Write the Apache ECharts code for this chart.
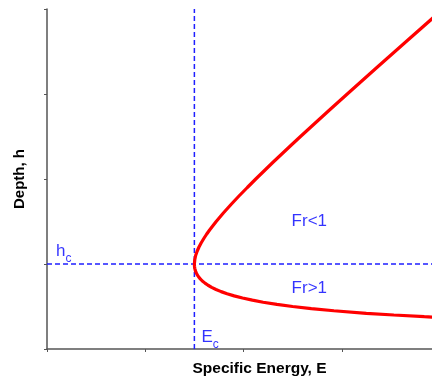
<!DOCTYPE html>
<html>
<head>
<meta charset="utf-8">
<script src="https://cdn.jsdelivr.net/npm/echarts@6/dist/echarts.min.js"></script>
<style>html,body{margin:0;padding:0;background:#fff;}#c{width:432px;height:378px;}</style>
</head>
<body>
<div id="c"></div>
<script>
// Specific energy curve (depth h vs specific energy E)
var depthValues  = [0.37, 0.38, 0.40, 0.42, 0.45, 0.475, 0.50, 0.525, 0.55, 0.575, 0.60, 0.625, 0.65, 0.675, 0.70, 0.725, 0.75, 0.775, 0.80, 0.825, 0.85, 0.875, 0.90, 0.925, 0.95, 0.975, 1.00, 1.05, 1.10, 1.15, 1.20, 1.25, 1.30, 1.35, 1.40, 1.50, 1.60, 1.70, 1.80, 1.90, 2.00, 2.20, 2.40, 2.50, 2.80, 3.00, 3.30, 3.60, 3.90, 4.00];
var energyValues = [4.02, 3.84, 3.53, 3.25, 2.92, 2.69, 2.50, 2.34, 2.20, 2.09, 1.99, 1.905, 1.833, 1.772, 1.720, 1.676, 1.639, 1.608, 1.581, 1.560, 1.542, 1.528, 1.517, 1.509, 1.504, 1.501, 1.500, 1.504, 1.513, 1.528, 1.547, 1.570, 1.596, 1.624, 1.655, 1.722, 1.795, 1.873, 1.954, 2.039, 2.125, 2.303, 2.487, 2.58, 2.864, 3.056, 3.346, 3.639, 3.933, 4.031];
var criticalEnergy = 1.5;
var criticalDepth = 1.0;
var xRange = [0, 4];
var yRange = [0, 4];
var annotations = [
  {name: 'hc', E: 0.17, h: 1.12},
  {name: 'Ec', E: 1.66, h: 0.11},
  {name: 'Fr<1', E: 2.67, h: 1.50},
  {name: 'Fr>1', E: 2.67, h: 0.71}
];

var curve = depthValues.map(function (h, i) { return [energyValues[i], h]; });
var blue = '#1f1fff';
var textBlue = '#0000ff';
var axisColor = '#555555';

function annLabel(p) {
  var n = p.data.name;
  if (n === 'hc') return '{a|h}{b|c}';
  if (n === 'Ec') return '{a|E}{b|c}';
  return '{a|' + n + '}';
}

var chart = echarts.init(document.getElementById('c'));
chart.setOption({
  animation: false,
  grid: {left: 47, top: 9, right: -8, bottom: 29, containLabel: false, outerBoundsMode: 'none'},
  xAxis: {
    type: 'value', min: xRange[0], max: xRange[1], interval: 1,
    name: 'Specific Energy, E', nameLocation: 'middle', nameGap: 12,
    nameTextStyle: {fontFamily: 'Liberation Sans', fontWeight: 'bold', fontSize: 15.5, color: '#000', padding: [0, 0, 0, 32]},
    axisLine: {show: true, lineStyle: {color: axisColor, width: 1.5}},
    axisTick: {show: true, inside: false, length: 3, lineStyle: {color: axisColor}},
    axisLabel: {show: false},
    splitLine: {show: false}
  },
  yAxis: {
    type: 'value', min: yRange[0], max: yRange[1], interval: 1,
    name: 'Depth, h', nameLocation: 'middle', nameGap: 20, nameRotate: 90,
    nameTextStyle: {fontFamily: 'Liberation Sans', fontWeight: 'bold', fontSize: 15, color: '#000'},
    axisLine: {show: true, lineStyle: {color: axisColor, width: 1.5}},
    axisTick: {show: true, inside: false, length: 3, lineStyle: {color: axisColor}},
    axisLabel: {show: false},
    splitLine: {show: false}
  },
  series: [
    {
      type: 'line', data: [[criticalEnergy, yRange[0]], [criticalEnergy, yRange[1]]],
      symbol: 'none', lineStyle: {color: blue, width: 1.5, type: [5, 3]}, z: 2
    },
    {
      type: 'line', data: [[xRange[0], criticalDepth], [xRange[1], criticalDepth]],
      symbol: 'none', lineStyle: {color: blue, width: 1.5, type: [5, 3]}, z: 2
    },
    {
      type: 'line', data: curve, smooth: false, symbol: 'none', clip: true,
      lineStyle: {color: '#ff0000', width: 3.2}, z: 3
    },
    {
      type: 'scatter', symbolSize: 0, z: 4,
      data: annotations.map(function (a) { return {name: a.name, value: [a.E, a.h]}; }),
      label: {
        show: true, position: 'inside', formatter: annLabel,
        rich: {
          a: {fontFamily: 'Liberation Sans', fontSize: 17, color: textBlue, lineHeight: 18, verticalAlign: 'top'},
          b: {fontFamily: 'Liberation Sans', fontSize: 12, color: textBlue, lineHeight: 22, verticalAlign: 'bottom'}
        }
      }
    }
  ]
});
</script>
</body>
</html>
